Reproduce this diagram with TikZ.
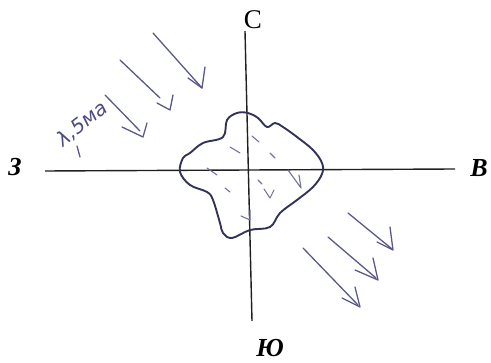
\documentclass[tikz,border=0pt]{standalone}
\usepackage{fontspec}
\setmainfont{Liberation Serif}
\newfontfamily\handfont{DejaVu Sans}
\begin{document}
\begin{tikzpicture}[x=1pt,y=-1pt,
  axis/.style={line width=1.4pt,draw=black!88},
  blob/.style={line width=1.9pt,draw=black!75!blue!60!gray},
  pen/.style={line width=1.3pt,draw=blue!30!black!65,line cap=round,line join=round},
  hatch/.style={line width=1.1pt,draw=blue!30!black!55,line cap=round,line join=round},
  dirlabel/.style={font=\fontsize{26}{26}\selectfont\bfseries\itshape,inner sep=0pt,anchor=center}]
\useasboundingbox (0,0) rectangle (491,363);
% axes
\coordinate (N) at (245,31);
\coordinate (S) at (252,321);
\coordinate (W) at (45,171);
\coordinate (E) at (455,169);
\draw[axis] (W) -- (E);
\draw[axis] (N) -- (S);
% labels
\node[font=\fontsize{27}{27}\selectfont,inner sep=0pt] (lC) at (253,20) {С};
\node[dirlabel] (lW) at (15,167) {З};
\node[dirlabel] (lE) at (479,168) {В};
\node[dirlabel] (lS) at (270,348) {Ю};
% blob
\draw[blob] plot[smooth cycle,tension=0.6] coordinates {
 (248,113) (258,118) (267,127) (275,123) (283,127) (297,137) (313,150) (322,163)
 (322,174) (313,187) (297,200) (280,213) (270,227) (250,230) (232,238) (223,233)
 (220,223) (213,200) (207,192) (190,185) (180,172) (183,158) (190,153) (203,143)
 (223,137) (227,120) (237,113)};
% hatching inside
\draw[hatch] (230,147) -- (240,153);
\draw[hatch] (252,136) -- (259,142);
\draw[hatch] (270,153) -- (275,158);
\draw[hatch] (207,168) -- (217,175);
\draw[hatch] (225,188) -- (230,192);
\draw[hatch] (258,180) -- (262,184);
\draw[hatch] (264,189) -- (270,198) -- (274,190);
\draw[hatch] (288,170) -- (301,188) -- (299,175);
\draw[hatch] (241,216) -- (250,220) -- (250,210);
% upper-left arrows
\draw[pen] (153,33) -- (202,88);
\draw[pen] (188,78) -- (202,88) -- (205,67);
\draw[pen] (120,60) -- (160,98);
\draw[pen] (157,103) -- (170,110) -- (173,95);
\draw[pen] (105,95) -- (140,131);
\draw[pen] (122,127) -- (143,137) -- (147,123);
% handwritten note
\node[font=\handfont\itshape\fontsize{20}{20}\selectfont,rotate=38,inner sep=0pt,text=blue!30!black!70] (note) at (82,124) {λ,5ма};
\draw[pen] (77,146) -- (80,157);
% lower-right arrows
\draw[pen] (348,213) -- (392,249);
\draw[pen] (377,242) -- (393,250) -- (390,227);
\draw[pen] (328,237) -- (376,278);
\draw[pen] (355,270) -- (378,280) -- (373,258);
\draw[pen] (303,248) -- (358,305);
\draw[pen] (342,298) -- (360,307) -- (355,287);
\end{tikzpicture}
\end{document}
